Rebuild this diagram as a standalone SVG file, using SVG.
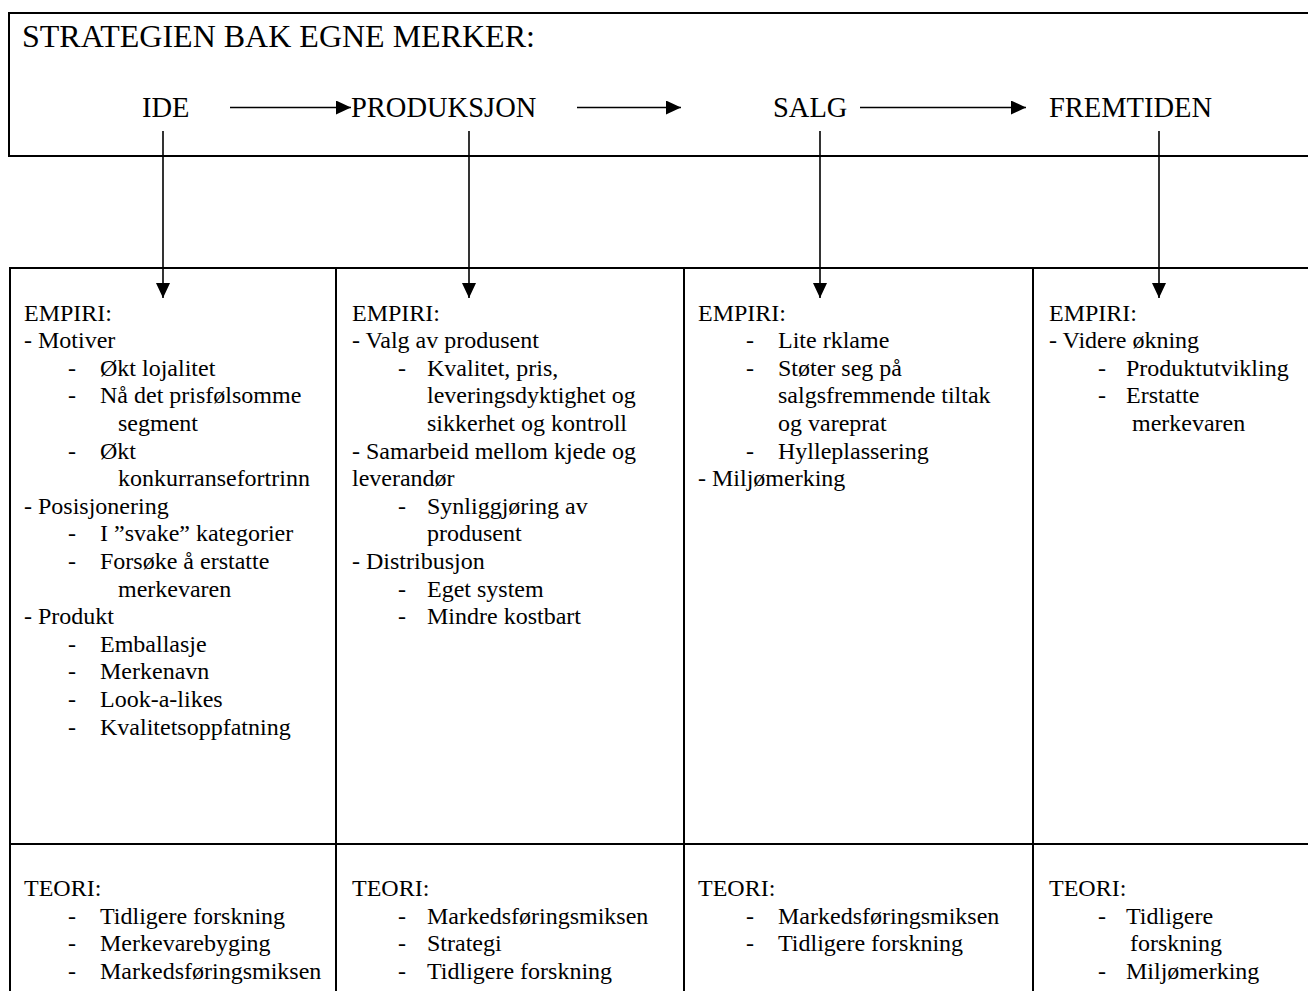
<svg xmlns="http://www.w3.org/2000/svg" width="1308" height="991" viewBox="0 0 1308 991">
<style>
text{font-family:"Liberation Serif","Times New Roman",serif;fill:#000}
.t{font-size:24px}
.h{font-size:28.5px}
.box{fill:none;stroke:#000;stroke-width:2}
.ln{stroke:#000;stroke-width:1.6;fill:none}
</style>
<defs>
<marker id="ah" viewBox="0 0 15 14" refX="15" refY="7" markerWidth="15" markerHeight="14" markerUnits="userSpaceOnUse" orient="auto">
<path d="M0,0 L15,7 L0,14 Z" fill="#000"/>
</marker>
</defs>
<rect width="1308" height="991" fill="#fff"/>

<g id="header-box">
<rect class="box" x="9" y="13" width="1320" height="143"/>
<text x="22" y="47" font-size="32">STRATEGIEN BAK EGNE MERKER:</text>
</g>
<g id="step-ide"><text class="h" x="142" y="117">IDE</text></g>
<g id="step-produksjon"><text class="h" x="351" y="117">PRODUKSJON</text></g>
<g id="step-salg"><text class="h" x="773" y="117">SALG</text></g>
<g id="step-fremtiden"><text class="h" x="1049" y="117">FREMTIDEN</text></g>

<g id="col1-empiri">
<rect class="box" x="10" y="268" width="326" height="576"/>
<text class="t" x="24" y="320.5">EMPIRI:</text>
<text class="t" x="24" y="348.1">- Motiver</text>
<text class="t" x="68" y="375.7">-</text><text class="t" x="100" y="375.7">Økt lojalitet</text>
<text class="t" x="68" y="403.3">-</text><text class="t" x="100" y="403.3">Nå det prisfølsomme</text>
<text class="t" x="118" y="430.9">segment</text>
<text class="t" x="68" y="458.5">-</text><text class="t" x="100" y="458.5">Økt</text>
<text class="t" x="118" y="486.1">konkurransefortrinn</text>
<text class="t" x="24" y="513.7">- Posisjonering</text>
<text class="t" x="68" y="541.3">-</text><text class="t" x="100" y="541.3">I ”svake” kategorier</text>
<text class="t" x="68" y="568.9">-</text><text class="t" x="100" y="568.9">Forsøke å erstatte</text>
<text class="t" x="118" y="596.5">merkevaren</text>
<text class="t" x="24" y="624.1">- Produkt</text>
<text class="t" x="68" y="651.7">-</text><text class="t" x="100" y="651.7">Emballasje</text>
<text class="t" x="68" y="679.3">-</text><text class="t" x="100" y="679.3">Merkenavn</text>
<text class="t" x="68" y="706.9">-</text><text class="t" x="100" y="706.9">Look-a-likes</text>
<text class="t" x="68" y="734.5">-</text><text class="t" x="100" y="734.5">Kvalitetsoppfatning</text>
</g>

<g id="col2-empiri">
<rect class="box" x="336" y="268" width="348" height="576"/>
<text class="t" x="352" y="320.5">EMPIRI:</text>
<text class="t" x="352" y="348.1">- Valg av produsent</text>
<text class="t" x="398" y="375.7">-</text><text class="t" x="427" y="375.7">Kvalitet, pris,</text>
<text class="t" x="427" y="403.3">leveringsdyktighet og</text>
<text class="t" x="427" y="430.9">sikkerhet og kontroll</text>
<text class="t" x="352" y="458.5">- Samarbeid mellom kjede og</text>
<text class="t" x="352" y="486.1">leverandør</text>
<text class="t" x="398" y="513.7">-</text><text class="t" x="427" y="513.7">Synliggjøring av</text>
<text class="t" x="427" y="541.3">produsent</text>
<text class="t" x="352" y="568.9">- Distribusjon</text>
<text class="t" x="398" y="596.5">-</text><text class="t" x="427" y="596.5">Eget system</text>
<text class="t" x="398" y="624.1">-</text><text class="t" x="427" y="624.1">Mindre kostbart</text>
</g>

<g id="col3-empiri">
<rect class="box" x="684" y="268" width="349" height="576"/>
<text class="t" x="698" y="320.5">EMPIRI:</text>
<text class="t" x="746" y="348.1">-</text><text class="t" x="778" y="348.1">Lite rklame</text>
<text class="t" x="746" y="375.7">-</text><text class="t" x="778" y="375.7">Støter seg på</text>
<text class="t" x="778" y="403.3">salgsfremmende tiltak</text>
<text class="t" x="778" y="430.9">og vareprat</text>
<text class="t" x="746" y="458.5">-</text><text class="t" x="778" y="458.5">Hylleplassering</text>
<text class="t" x="698" y="486.1">- Miljømerking</text>
</g>

<g id="col4-empiri">
<rect class="box" x="1033" y="268" width="300" height="576"/>
<text class="t" x="1049" y="320.5">EMPIRI:</text>
<text class="t" x="1049" y="348.1">- Videre økning</text>
<text class="t" x="1098" y="375.7">-</text><text class="t" x="1126" y="375.7">Produktutvikling</text>
<text class="t" x="1098" y="403.3">-</text><text class="t" x="1126" y="403.3">Erstatte</text>
<text class="t" x="1132" y="430.9">merkevaren</text>
</g>

<g id="col1-teori">
<rect class="box" x="10" y="844" width="326" height="170"/>
<text class="t" x="24" y="896">TEORI:</text>
<text class="t" x="68" y="923.6">-</text><text class="t" x="100" y="923.6">Tidligere forskning</text>
<text class="t" x="68" y="951.2">-</text><text class="t" x="100" y="951.2">Merkevarebyging</text>
<text class="t" x="68" y="978.8">-</text><text class="t" x="100" y="978.8">Markedsføringsmiksen</text>
</g>

<g id="col2-teori">
<rect class="box" x="336" y="844" width="348" height="170"/>
<text class="t" x="352" y="896">TEORI:</text>
<text class="t" x="398" y="923.6">-</text><text class="t" x="427" y="923.6">Markedsføringsmiksen</text>
<text class="t" x="398" y="951.2">-</text><text class="t" x="427" y="951.2">Strategi</text>
<text class="t" x="398" y="978.8">-</text><text class="t" x="427" y="978.8">Tidligere forskning</text>
</g>

<g id="col3-teori">
<rect class="box" x="684" y="844" width="349" height="170"/>
<text class="t" x="698" y="896">TEORI:</text>
<text class="t" x="746" y="923.6">-</text><text class="t" x="778" y="923.6">Markedsføringsmiksen</text>
<text class="t" x="746" y="951.2">-</text><text class="t" x="778" y="951.2">Tidligere forskning</text>
</g>

<g id="col4-teori">
<rect class="box" x="1033" y="844" width="300" height="170"/>
<text class="t" x="1049" y="896">TEORI:</text>
<text class="t" x="1098" y="923.6">-</text><text class="t" x="1126" y="923.6">Tidligere</text>
<text class="t" x="1130" y="951.2">forskning</text>
<text class="t" x="1098" y="978.8">-</text><text class="t" x="1126" y="978.8">Miljømerking</text>
</g>

<g id="connectors">
<line class="ln" x1="230" y1="107.5" x2="351" y2="107.5" marker-end="url(#ah)"/>
<line class="ln" x1="577" y1="107.5" x2="681" y2="107.5" marker-end="url(#ah)"/>
<line class="ln" x1="860" y1="107.5" x2="1026" y2="107.5" marker-end="url(#ah)"/>
<line class="ln" x1="163" y1="131" x2="163" y2="298" marker-end="url(#ah)"/>
<line class="ln" x1="469" y1="131" x2="469" y2="298" marker-end="url(#ah)"/>
<line class="ln" x1="820" y1="131" x2="820" y2="298" marker-end="url(#ah)"/>
<line class="ln" x1="1159" y1="131" x2="1159" y2="298" marker-end="url(#ah)"/>
</g>
</svg>
